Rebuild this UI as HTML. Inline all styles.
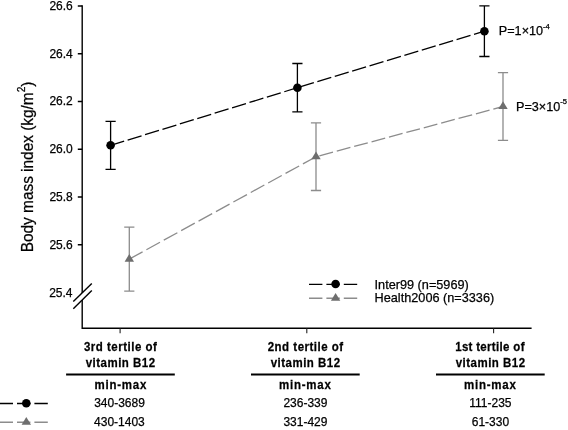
<!DOCTYPE html>
<html><head><meta charset="utf-8"><style>
html,body{margin:0;padding:0;background:#fff;width:568px;height:430px;overflow:hidden}
svg{display:block;will-change:transform}
text{font-family:"Liberation Sans",sans-serif;fill:#000;stroke:#000;stroke-width:0.25px}
.t{font-size:12px}
.b{font-size:12.3px;font-weight:bold;stroke-width:0.1px}
.l{font-size:12.7px}
.p{font-size:12.65px}
</style></head><body>
<svg width="568" height="430" viewBox="0 0 568 430">
<!-- axes -->
<g stroke="#000" stroke-width="1.4" fill="none">
<path d="M82.2 5.3V328.3H531.6"/>
<path d="M77.8 6H82.2M77.8 53.75H82.2M77.8 101.5H82.2M77.8 149.2H82.2M77.8 196.95H82.2M77.8 244.7H82.2"/>
</g>
<g stroke="#222" stroke-width="1.1">
<path d="M120.1 328.3V333.3M306.8 328.3V333.3M493.6 328.3V333.3"/>
</g>
<!-- break -->
<polygon points="73.3,301.6 91.8,283.4 91.8,290.4 73.3,308.7" fill="#fff"/>
<g stroke="#000" stroke-width="1.4">
<line x1="73.3" y1="301.6" x2="91.8" y2="283.4"/>
<line x1="73.3" y1="308.7" x2="91.8" y2="290.4"/>
</g>
<!-- y tick labels -->
<g class="t" text-anchor="end">
<text x="72.8" y="9.90">26.6</text>
<text x="72.8" y="57.65">26.4</text>
<text x="72.8" y="105.40">26.2</text>
<text x="72.8" y="153.10">26.0</text>
<text x="72.8" y="200.85">25.8</text>
<text x="72.8" y="248.60">25.6</text>
<text x="72.5" y="296.7">25.4</text>
</g>
<!-- y title -->
<text transform="translate(32.5,252.3) rotate(-90) scale(1,1.04)" style="font-size:15.4px">Body mass index (kg/m<tspan dy="-7.3" style="font-size:10.2px">2</tspan><tspan dy="7.3">)</tspan></text>

<!-- gray series -->
<g stroke="#8c8c8c" stroke-width="1.3" fill="none">
<line x1="129.3" y1="259.1" x2="316" y2="156.7" stroke-dasharray="15.51 4.33" stroke-dashoffset="0.36"/>
<line x1="316" y1="156.7" x2="503" y2="106.5" stroke-dasharray="14.08 3.93" stroke-dashoffset="14.50"/>
<path d="M129.3 227.1V291.1M124.2 227.1H134.4M124.2 291.1H134.4"/>
<path d="M316 122.9V190.5M310.9 122.9H321.1M310.9 190.5H321.1"/>
<path d="M503 72.6V140.4M497.9 72.6H508.1M497.9 140.4H508.1"/>
</g>
<g fill="#6e6e6e">
<polygon points="129.3,253.9 124.6,261.7 134.0,261.7"/>
<polygon points="316.0,151.5 311.3,159.3 320.7,159.3"/>
<polygon points="503.0,101.3 498.3,109.1 507.7,109.1"/>
</g>
<!-- black series -->
<g stroke="#000" stroke-width="1.3" fill="none">
<line x1="110.6" y1="145.3" x2="297.4" y2="87.7" stroke-dasharray="14.55 3.66" stroke-dashoffset="0.37"/>
<line x1="297.4" y1="87.7" x2="484.4" y2="31.2" stroke-dasharray="14.52 3.66" stroke-dashoffset="15.51"/>
<path d="M110.6 121.4V169.3M105.5 121.4H115.7M105.5 169.3H115.7"/>
<path d="M297.4 63.5V111.9M292.3 63.5H302.5M292.3 111.9H302.5"/>
<path d="M484.4 5.9V56.5M479.3 5.9H489.5M479.3 56.5H489.5"/>
</g>
<g fill="#000">
<circle cx="110.6" cy="145.3" r="4.3"/>
<circle cx="297.4" cy="87.7" r="4.3"/>
<circle cx="484.4" cy="31.2" r="4.3"/>
</g>

<!-- p values -->
<text class="p" x="498.8" y="35.3">P=1×10<tspan dy="-6.8" style="font-size:7.6px">-4</tspan></text>
<text class="p" x="516" y="110.6">P=3×10<tspan dy="-6.8" style="font-size:7.6px">-5</tspan></text>

<!-- legend in plot -->
<g stroke-width="1.4" stroke-dasharray="13.4 4">
<line x1="309" y1="284.4" x2="357.2" y2="284.4" stroke="#000"/>
<line x1="309" y1="298.2" x2="357.2" y2="298.2" stroke="#8c8c8c"/>
</g>
<circle cx="335.6" cy="284" r="4.3" fill="#000"/>
<polygon points="335.6,292.9 330.9,300.7 340.3,300.7" fill="#6e6e6e"/>
<text class="l" x="374.6" y="288.5">Inter99 (n=5969)</text>
<text class="l" x="374.6" y="301.8">Health2006 (n=3336)</text>

<!-- category labels -->
<g class="b">
<text transform="translate(120.65,350.7) scale(0.935,1)" text-anchor="middle" style="letter-spacing:0.535px">3rd tertile of</text>
<text transform="translate(120.65,366.9) scale(0.935,1)" text-anchor="middle" style="letter-spacing:0.535px">vitamin B12</text>
<text transform="translate(305.65,350.7) scale(0.935,1)" text-anchor="middle" style="letter-spacing:0.535px">2nd tertile of</text>
<text transform="translate(305.65,366.9) scale(0.935,1)" text-anchor="middle" style="letter-spacing:0.535px">vitamin B12</text>
<text transform="translate(455.2,350.7) scale(0.935,1)" text-anchor="start" style="letter-spacing:0.321px">1st tertile</text>
<text transform="translate(513.3,350.7) scale(0.935,1)" text-anchor="start" style="letter-spacing:0.535px">of</text>
<text transform="translate(490.65,366.9) scale(0.935,1)" text-anchor="middle" style="letter-spacing:0.535px">vitamin B12</text>
<text transform="translate(120.8,388.6) scale(0.935,1)" text-anchor="middle" style="letter-spacing:0.856px">min-max</text>
<text transform="translate(305.3,388.6) scale(0.935,1)" text-anchor="middle" style="letter-spacing:0.856px">min-max</text>
<text transform="translate(490.3,388.6) scale(0.935,1)" text-anchor="middle" style="letter-spacing:0.856px">min-max</text>
</g>
<g stroke="#000" stroke-width="2">
<line x1="66.1" y1="374.5" x2="174.8" y2="374.5"/>
<line x1="251" y1="374.5" x2="359.7" y2="374.5"/>
<line x1="436" y1="374.5" x2="544.7" y2="374.5"/>
</g>
<g class="t" text-anchor="middle">
<text x="119.5" y="407.1">340-3689</text>
<text x="119.4" y="425.9">430-1403</text>
<text x="305.4" y="407.1">236-339</text>
<text x="305.4" y="425.9">331-429</text>
<text x="490.4" y="407.1">111-235</text>
<text x="490.4" y="425.9">61-330</text>
</g>

<!-- bottom-left legend -->
<g stroke-width="1.4" stroke-dasharray="13.4 4">
<line x1="-0.4" y1="403.55" x2="47.9" y2="403.55" stroke="#000"/>
<line x1="-0.4" y1="422.2" x2="47.9" y2="422.2" stroke="#8c8c8c"/>
</g>
<circle cx="26.3" cy="403.2" r="4.3" fill="#000"/>
<polygon points="26.3,417.0 21.6,424.8 31.0,424.8" fill="#6e6e6e"/>
</svg>
</body></html>
